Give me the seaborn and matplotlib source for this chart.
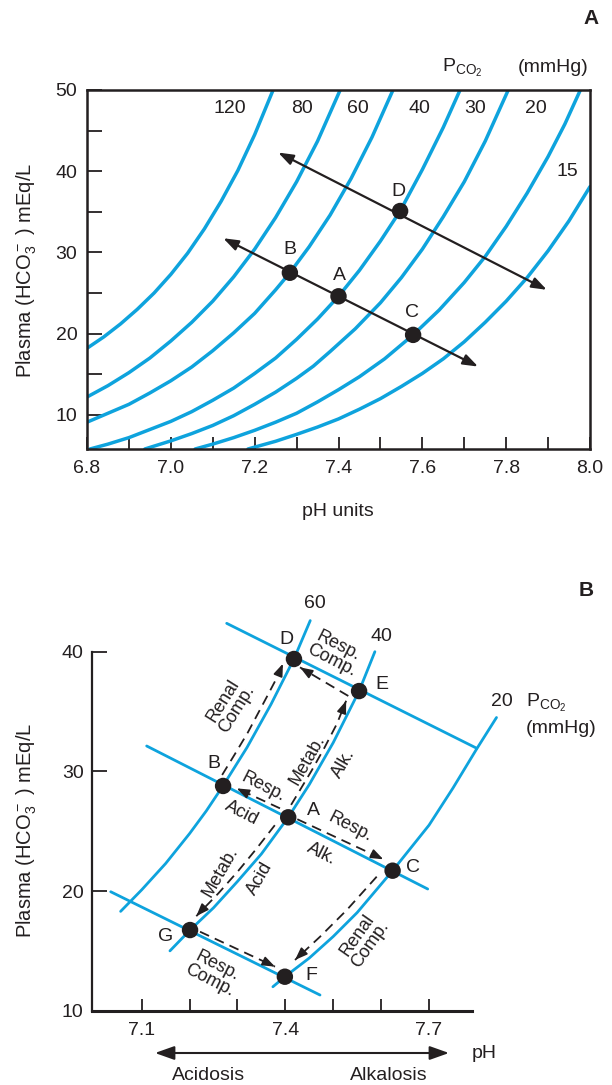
import numpy as np
import pandas as pd
import matplotlib
matplotlib.use("Agg")
import matplotlib.pyplot as plt
import seaborn as sns

BLUE = "#0ea3dd"
INK = "#231f20"

# ---------------- Panel A: PCO2 isobars (pH, HCO3- mEq/L)
iso_names = ["120", "80", "60", "40", "30", "20", "15"]
ph_120 = [6.80, 6.84, 6.88, 6.92, 6.96, 7.00, 7.04, 7.08, 7.12, 7.16, 7.20, 7.244]
hco3_120 = [18.2, 19.6, 21.2, 23.0, 25.0, 27.3, 29.9, 32.9, 36.3, 40.1, 44.5, 50.0]
ph_80 = [6.80, 6.85, 6.90, 6.95, 7.00, 7.05, 7.10, 7.15, 7.20, 7.25, 7.30, 7.35, 7.404]
hco3_80 = [12.2, 13.6, 15.2, 17.0, 19.1, 21.4, 24.0, 27.0, 30.4, 34.3, 38.7, 43.7, 50.0]
ph_60 = [6.80, 6.85, 6.90, 6.95, 7.00, 7.05, 7.10, 7.15, 7.20, 7.25, 7.284, 7.33,
         7.38, 7.43, 7.48, 7.53]
hco3_60 = [9.1, 10.2, 11.3, 12.7, 14.2, 15.9, 17.9, 20.1, 22.5, 25.4, 27.5, 30.7,
           34.6, 39.1, 44.2, 50.0]
ph_40 = [6.807, 6.85, 6.90, 6.95, 7.00, 7.05, 7.10, 7.15, 7.20, 7.25, 7.30, 7.35,
         7.40, 7.45, 7.50, 7.547, 7.60, 7.65, 7.69]
hco3_40 = [5.8, 6.4, 7.2, 8.2, 9.2, 10.4, 11.8, 13.3, 15.1, 17.0, 19.3, 21.8,
           24.6, 27.8, 31.4, 35.1, 40.2, 45.4, 50.0]
ph_30 = [6.938, 7.00, 7.05, 7.10, 7.15, 7.20, 7.25, 7.30, 7.34, 7.38, 7.44, 7.50,
         7.55, 7.60, 7.65, 7.70, 7.75, 7.805]
hco3_30 = [5.8, 6.8, 7.7, 8.7, 9.9, 11.3, 12.8, 14.5, 16.0, 17.8, 20.6, 23.8,
           26.9, 30.4, 34.4, 38.7, 43.7, 50.0]
ph_20 = [7.058, 7.10, 7.15, 7.20, 7.25, 7.30, 7.35, 7.40, 7.45, 7.51, 7.578, 7.64,
         7.70, 7.75, 7.80, 7.85, 7.90, 7.94, 7.977]
hco3_20 = [5.8, 6.4, 7.2, 8.1, 9.1, 10.2, 11.6, 13.1, 14.7, 16.9, 19.85, 22.9,
           26.3, 29.5, 33.2, 37.3, 41.8, 45.8, 50.0]
ph_15 = [7.184, 7.25, 7.30, 7.35, 7.40, 7.45, 7.50, 7.55, 7.60, 7.65, 7.70, 7.75,
         7.80, 7.85, 7.90, 7.95, 8.00]
hco3_15 = [5.8, 6.75, 7.6, 8.5, 9.5, 10.7, 12.0, 13.5, 15.1, 16.9, 19.0, 21.4,
           24.0, 26.9, 30.2, 33.9, 38.1]

# isobar label positions
iso_label_ph = [7.141, 7.312, 7.447, 7.593, 7.726, 7.871, 7.946]
iso_label_hco3 = [47.75, 47.75, 47.75, 47.75, 47.75, 47.75, 39.95]

# state points A-D
pts_a_names = ["A", "B", "C", "D"]
pts_a_ph = [7.40, 7.284, 7.578, 7.547]
pts_a_hco3 = [24.6, 27.5, 19.85, 35.1]
pts_a_lab_ph = [7.402, 7.283, 7.575, 7.543]
pts_a_lab_hco3 = [27.2, 30.4, 22.6, 37.5]

# buffer lines (two-headed arrows): start / end
buf_lo_ph = [7.125, 7.733]
buf_lo_hco3 = [31.75, 15.95]
buf_hi_ph = [7.256, 7.897]
buf_hi_hco3 = [42.3, 25.4]

ph_ticks_a = [6.8, 7.0, 7.2, 7.4, 7.6, 7.8, 8.0]
hco3_ticks_a = [10, 20, 30, 40, 50]

# ---------------- Panel B: compensation diagram
isoB_names = ["60", "40", "20"]
phB_60 = [7.056, 7.10, 7.15, 7.20, 7.235, 7.270, 7.32, 7.37, 7.418, 7.452]
hco3B_60 = [18.3, 20.1, 22.3, 24.8, 26.7, 28.8, 32.0, 35.6, 39.4, 42.6]
phB_40 = [7.159, 7.201, 7.25, 7.30, 7.35, 7.406, 7.45, 7.50, 7.554, 7.587]
hco3B_40 = [15.0, 16.74, 18.6, 20.8, 23.1, 26.16, 28.9, 32.4, 36.71, 40.0]
phB_20 = [7.374, 7.399, 7.45, 7.50, 7.55, 7.624, 7.70, 7.75, 7.800, 7.841]
hco3B_20 = [12.0, 12.84, 14.4, 16.2, 18.2, 21.70, 25.5, 28.6, 31.9, 34.5]

# buffer lines
bufB_top_ph = [7.2775, 7.7997]
bufB_top_hco3 = [42.37, 31.93]
bufB_mid_ph = [7.1104, 7.6973]
bufB_mid_hco3 = [32.12, 20.17]
bufB_bot_ph = [7.0353, 7.4724]
bufB_bot_hco3 = [19.94, 11.31]

ptsB_names = ["D", "E", "B", "A", "C", "G", "F"]
ptsB_ph = [7.418, 7.554, 7.270, 7.406, 7.624, 7.201, 7.399]
ptsB_hco3 = [39.39, 36.71, 28.78, 26.16, 21.70, 16.74, 12.84]
ptsB_lab_ph = [7.403, 7.601, 7.251, 7.458, 7.667, 7.151, 7.455]
ptsB_lab_hco3 = [41.03, 37.22, 30.67, 26.77, 21.98, 16.18, 12.98]

# dashed compensation arrows (path ends at the arrow tip)
renal_bd_ph = [7.268, 7.294, 7.321, 7.341, 7.361, 7.382, 7.395]
renal_bd_hco3 = [29.7, 31.4, 33.2, 34.7, 36.2, 37.8, 39.0]
resp_ed_ph = [7.5315, 7.4306]
resp_ed_hco3 = [36.30, 38.69]
metab_ae_ph = [7.412, 7.424, 7.454, 7.482, 7.508, 7.527]
metab_ae_hco3 = [27.2, 28.0, 30.0, 32.0, 34.0, 35.9]
metab_ag_ph = [7.378, 7.339, 7.302, 7.260, 7.214]
metab_ag_hco3 = [25.5, 23.5, 21.7, 19.8, 17.9]
resp_ab_ph = [7.3888, 7.2984]
resp_ab_hco3 = [26.91, 28.58]
resp_ac_ph = [7.425, 7.6046]
resp_ac_hco3 = [26.0, 22.65]
renal_cf_ph = [7.5908, 7.5282, 7.4724, 7.4202]
renal_cf_hco3 = [21.20, 18.41, 16.18, 14.24]
resp_gf_ph = [7.2218, 7.3784]
resp_gf_hco3 = [16.60, 13.68]

# rotated process labels: text, pH, HCO3, angle
proc_text = ["Renal\nComp.", "Resp.\nComp.", "Metab.", "Alk.", "Resp.", "Acid",
             "Resp.", "Alk.", "Metab.", "Acid", "Renal\nComp.", "Resp.\nComp."]
proc_ph = [7.284, 7.504, 7.445, 7.521, 7.354, 7.309, 7.535, 7.476, 7.2635,
           7.347, 7.563, 7.250]
proc_hco3 = [35.55, 39.87, 30.95, 30.67, 28.72, 26.50, 25.38, 23.15, 21.62,
             21.06, 15.91, 13.13]
proc_angle = [58, -27, 60, 60, -27, -27, -27, -27, 60, 60, 55, -27]

isoB_lab_ph = [7.462, 7.601, 7.852]
isoB_lab_hco3 = [44.04, 41.25, 35.82]

ph_ticks_b = [7.1, 7.4, 7.7]
ph_minor_b = [7.2, 7.3, 7.5, 7.6]
hco3_ticks_b = [10, 20, 30, 40]

# ---------------------------------------------------------------------------
sns.set_style("white")
plt.rcParams["font.family"] = ["Liberation Sans", "DejaVu Sans"]
plt.rcParams["mathtext.fontset"] = "custom"
plt.rcParams["mathtext.rm"] = "Liberation Sans"
plt.rcParams["mathtext.it"] = "Liberation Sans:italic"
plt.rcParams["mathtext.default"] = "regular"

FS = 14
W, H = 612, 1085
fig = plt.figure(figsize=(W / 100, H / 100), dpi=100)


def fpx(x, y):
    return x / W, 1 - y / H


def long_frame(names, phs, vals):
    rows = []
    for n, p, v in zip(names, phs, vals):
        rows.append(pd.DataFrame({"curve": n, "ph": p, "hco3": v}))
    return pd.concat(rows, ignore_index=True)


def dashed_arrow(ax, ph, hco3):
    sns.lineplot(x=ph, y=hco3, sort=False, ax=ax, color=INK, lw=1.3,
                 linestyle=(0, (5.5, 3.5)), zorder=3)
    tip = ax.transData.transform((ph[-1], hco3[-1]))
    prev = ax.transData.transform((ph[-2], hco3[-2]))
    d = tip - prev
    d = d / np.hypot(*d)
    ax.annotate("", xy=(ph[-1], hco3[-1]), xytext=(-d[0] * 9, -d[1] * 9),
                textcoords="offset points",
                arrowprops=dict(arrowstyle="-|>,head_length=0.75,head_width=0.28",
                                color=INK, lw=1.2, shrinkA=0, shrinkB=0),
                zorder=4)


# ---------------- Panel A
axA = fig.add_axes([87 / W, 1 - 449 / H, (590 - 87) / W, (449 - 90) / H])
dfA = long_frame(iso_names,
                 [ph_120, ph_80, ph_60, ph_40, ph_30, ph_20, ph_15],
                 [hco3_120, hco3_80, hco3_60, hco3_40, hco3_30, hco3_20, hco3_15])
sns.lineplot(data=dfA, x="ph", y="hco3", units="curve", estimator=None,
             color=BLUE, lw=2.5, ax=axA, zorder=2)

for p, v in [(buf_lo_ph, buf_lo_hco3), (buf_hi_ph, buf_hi_hco3)]:
    axA.annotate("", xy=(p[1], v[1]), xytext=(p[0], v[0]),
                 arrowprops=dict(arrowstyle="<|-|>,head_length=0.9,head_width=0.32",
                                 color=INK, lw=1.6, shrinkA=0, shrinkB=0),
                 zorder=3)

sns.scatterplot(x=pts_a_ph, y=pts_a_hco3, ax=axA, color=INK, s=140,
                edgecolor="none", zorder=5)
for n, p, v in zip(pts_a_names, pts_a_lab_ph, pts_a_lab_hco3):
    axA.text(p, v, n, ha="center", va="center", fontsize=FS, color=INK)
for n, p, v in zip(iso_names, iso_label_ph, iso_label_hco3):
    axA.text(p, v, n, ha="center", va="center", fontsize=FS, color=INK)

axA.set_xlim(6.8, 8.0)
axA.set_ylim(5.8, 50)
axA.set_xticks(ph_ticks_a)
axA.set_xticklabels([f"{t:.1f}" for t in ph_ticks_a])
axA.set_xticks(np.round(np.arange(6.9, 8.0, 0.1), 2), minor=True)
axA.set_yticks(hco3_ticks_a)
axA.set_yticks([15, 25, 35, 45], minor=True)
axA.set_xlabel("")
axA.set_ylabel("")
axA.tick_params(axis="x", which="both", direction="in", length=9, width=1.3,
                colors=INK, labelsize=FS, pad=8, bottom=True)
axA.tick_params(axis="y", which="both", direction="in", length=11, width=1.3,
                colors=INK, labelsize=FS, pad=7, left=True)
for sp in axA.spines.values():
    sp.set_color(INK)
    sp.set_linewidth(1.8)

# ---------------- Panel B
x_left_px, x_right_px = 91.9, 505.6
y_top_px, y_bot_px = 590, 1010.7
axB = fig.add_axes([x_left_px / W, 1 - y_bot_px / H,
                    (x_right_px - x_left_px) / W, (y_bot_px - y_top_px) / H])
dfB = long_frame(isoB_names, [phB_60, phB_40, phB_20],
                 [hco3B_60, hco3B_40, hco3B_20])
sns.lineplot(data=dfB, x="ph", y="hco3", units="curve", estimator=None,
             color=BLUE, lw=2.0, ax=axB, zorder=2)
for p, v in [(bufB_top_ph, bufB_top_hco3), (bufB_mid_ph, bufB_mid_hco3),
             (bufB_bot_ph, bufB_bot_hco3)]:
    sns.lineplot(x=p, y=v, ax=axB, color=BLUE, lw=2.0, zorder=2)

for p, v in [(renal_bd_ph, renal_bd_hco3), (resp_ed_ph, resp_ed_hco3),
             (metab_ae_ph, metab_ae_hco3), (metab_ag_ph, metab_ag_hco3),
             (resp_ab_ph, resp_ab_hco3), (resp_ac_ph, resp_ac_hco3),
             (renal_cf_ph, renal_cf_hco3), (resp_gf_ph, resp_gf_hco3)]:
    dashed_arrow(axB, p, v)

sns.scatterplot(x=ptsB_ph, y=ptsB_hco3, ax=axB, color=INK, s=140,
                edgecolor="none", zorder=5)
for n, p, v in zip(ptsB_names, ptsB_lab_ph, ptsB_lab_hco3):
    axB.text(p, v, n, ha="center", va="center", fontsize=FS, color=INK)
for t, p, v, a in zip(proc_text, proc_ph, proc_hco3, proc_angle):
    axB.text(p, v, t, ha="center", va="center", rotation=a,
             rotation_mode="anchor", fontsize=13, color=INK, linespacing=0.9)
for n, p, v in zip(isoB_names, isoB_lab_ph, isoB_lab_hco3):
    axB.text(p, v, n, ha="center", va="center", fontsize=FS, color=INK)
axB.text(7.946, 35.71, r"P$_{CO_2}$", ha="center", va="center", fontsize=FS,
         color=INK)
axB.text(7.977, 33.6, "(mmHg)", ha="center", va="center", fontsize=FS,
         color=INK)

axB.set_xlim(6.996, 7.86)
axB.set_ylim(10, 10 + (y_bot_px - y_top_px) / 11.967)
axB.set_xticks(ph_ticks_b)
axB.set_xticklabels([f"{t:.1f}" for t in ph_ticks_b])
axB.set_xticks(ph_minor_b, minor=True)
axB.set_yticks(hco3_ticks_b)
axB.set_xlabel("")
axB.set_ylabel("")
axB.tick_params(axis="x", which="both", direction="in", length=9, width=1.3,
                colors=INK, labelsize=FS, pad=8, bottom=True)
axB.tick_params(axis="y", which="both", direction="in", length=11, width=1.3,
                colors=INK, labelsize=FS, pad=6, left=True)
sns.despine(ax=axB)
axB.spines["left"].set_bounds(10, 40)
axB.spines["bottom"].set_bounds(6.996, 7.79)
axB.spines["left"].set_color(INK)
axB.spines["left"].set_linewidth(1.6)
axB.spines["bottom"].set_color(INK)
axB.spines["bottom"].set_linewidth(2.2)

# ---------------- figure-level text
ylab = r"Plasma (HCO$_3^-$ ) mEq/L"
fig.text(*fpx(27, 270), ylab, rotation=90, ha="center", va="center",
         fontsize=14.5, color=INK)
fig.text(*fpx(27, 830), ylab, rotation=90, ha="center", va="center",
         fontsize=14.5, color=INK)
fig.text(*fpx(338, 511), "pH units", ha="center", va="center", fontsize=FS,
         color=INK)
fig.text(*fpx(591, 18), "A", ha="center", va="center", fontsize=15,
         fontweight="bold", color=INK)
fig.text(*fpx(586, 590), "B", ha="center", va="center", fontsize=15,
         fontweight="bold", color=INK)
fig.text(*fpx(462, 68), r"P$_{CO_2}$", ha="center", va="center", fontsize=FS,
         color=INK)
fig.text(*fpx(553, 68), "(mmHg)", ha="center", va="center", fontsize=FS,
         color=INK)

fig.patches.append(matplotlib.patches.FancyArrowPatch(
    fpx(155, 1053), fpx(449, 1053), transform=fig.transFigure,
    arrowstyle="<|-|>,head_length=0.9,head_width=0.32", mutation_scale=13,
    color=INK, lw=1.5, shrinkA=0, shrinkB=0))
fig.text(*fpx(484, 1053), "pH", ha="center", va="center", fontsize=FS,
         color=INK)
fig.text(*fpx(209, 1076), "Acidosis", ha="center", va="center", fontsize=FS,
         color=INK)
fig.text(*fpx(389, 1076), "Alkalosis", ha="center", va="center", fontsize=FS,
         color=INK)

fig.savefig("out.png", dpi=100)
plt.close("all")
